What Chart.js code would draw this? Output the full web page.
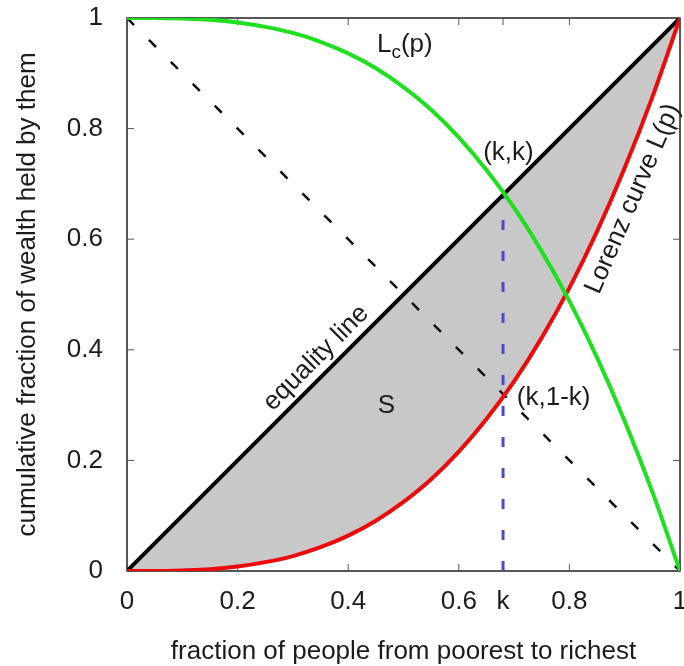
<!DOCTYPE html>
<html>
<head>
<meta charset="utf-8">
<script src="https://cdn.jsdelivr.net/npm/chart.js@4.4.1/dist/chart.umd.min.js"></script>
<style>
  body { margin: 0; background: #fff; }
</style>
</head>
<body>
<canvas id="lorenzChart" width="684" height="666"></canvas>
<script>
// values
const people = [0, 0.05, 0.1, 0.15, 0.2, 0.25, 0.3, 0.35, 0.4, 0.45, 0.5, 0.55, 0.6, 0.65, 0.7, 0.75, 0.8, 0.85, 0.9, 0.95, 1];
const lorenz = [0, 0, 0.001, 0.003, 0.008, 0.016, 0.027, 0.043, 0.064, 0.091, 0.125, 0.166, 0.216, 0.275, 0.343, 0.422, 0.512, 0.614, 0.729, 0.857, 1];
const lorenzC = [1, 1, 0.999, 0.997, 0.992, 0.984, 0.973, 0.957, 0.936, 0.909, 0.875, 0.834, 0.784, 0.725, 0.657, 0.578, 0.488, 0.386, 0.271, 0.143, 0];
const equality = [[0, 0], [1, 1]];
const antiDiagonal = [[0, 1], [1, 0]];
const k = 0.68;

const xTickVals = [0, 0.2, 0.4, 0.6, k, 0.8, 1];
const xTickLabels = ['0', '0.2', '0.4', '0.6', 'k', '0.8', '1'];
const yTickVals = [0, 0.2, 0.4, 0.6, 0.8, 1];
const yTickLabels = ['0', '0.2', '0.4', '0.6', '0.8', '1'];

const FONT = 'Liberation Sans, Arial, sans-serif';
const TEXT = '#1c1c1c';

const pts = (xs, ys) => xs.map((x, i) => ({ x: x, y: ys[i] }));
const pairs = (arr) => arr.map(p => ({ x: p[0], y: p[1] }));

// frame + inward ticks on all four sides (gnuplot style)
const framePlugin = {
  id: 'frame',
  beforeDatasetsDraw(chart) {
    const { ctx, chartArea: a, scales } = chart;
    ctx.save();
    ctx.strokeStyle = '#111';
    ctx.lineWidth = 1.4;
    ctx.strokeRect(a.left, a.top, a.right - a.left, a.bottom - a.top);
    ctx.strokeStyle = '#555';
    ctx.lineWidth = 1;
    const len = 7;
    ctx.beginPath();
    xTickVals.forEach(v => {
      const px = scales.x.getPixelForValue(v);
      ctx.moveTo(px, a.bottom); ctx.lineTo(px, a.bottom - len);
      ctx.moveTo(px, a.top); ctx.lineTo(px, a.top + len);
    });
    yTickVals.forEach(v => {
      const py = scales.y.getPixelForValue(v);
      ctx.moveTo(a.left, py); ctx.lineTo(a.left + len, py);
      ctx.moveTo(a.right, py); ctx.lineTo(a.right - len, py);
    });
    ctx.stroke();
    ctx.restore();
  }
};

// text labels inside the plot, placed in data coordinates
const notes = [
  { text: 'equality line', x: 0.342, y: 0.385, slope: true },
  { text: 'S', x: 0.469, y: 0.298, align: 'center' },
  { text: '(k,k)', x: 0.644, y: 0.757, align: 'left' },
  { text: '(k,1-k)', x: 0.705, y: 0.314, align: 'left' },
  { text: 'Lorenz curve L(p)', x: 0.915, y: 0.673, angle: -66.6 }
];

const notesPlugin = {
  id: 'notes',
  afterDatasetsDraw(chart) {
    const { ctx, scales } = chart;
    const sx = scales.x, sy = scales.y;
    ctx.save();
    ctx.fillStyle = TEXT;
    ctx.font = '26px ' + FONT;
    ctx.textBaseline = 'middle';
    notes.forEach(n => {
      let ang = (n.angle || 0) * Math.PI / 180;
      if (n.slope) {
        ang = Math.atan2(sy.getPixelForValue(1) - sy.getPixelForValue(0),
                         sx.getPixelForValue(1) - sx.getPixelForValue(0));
      }
      ctx.save();
      ctx.translate(sx.getPixelForValue(n.x), sy.getPixelForValue(n.y));
      ctx.rotate(ang);
      ctx.textAlign = n.align || 'center';
      ctx.fillText(n.text, 0, 0);
      ctx.restore();
    });

    // L_c(p) with subscript
    let px = sx.getPixelForValue(0.452);
    const py = sy.getPixelForValue(0.951);
    ctx.textAlign = 'left';
    ctx.fillText('L', px, py);
    px += ctx.measureText('L').width;
    ctx.font = '19px ' + FONT;
    ctx.fillText('c', px, py + 8);
    px += ctx.measureText('c').width;
    ctx.font = '26px ' + FONT;
    ctx.fillText('(p)', px, py);
    ctx.restore();
  }
};

const ctx = document.getElementById('lorenzChart').getContext('2d');

new Chart(ctx, {
  type: 'line',
  data: {
    datasets: [
      {
        label: 'Lc(p)',
        data: pts(people, lorenzC),
        borderColor: '#1fe01f',
        borderWidth: 4,
        cubicInterpolationMode: 'monotone',
        pointRadius: 0,
        fill: false
      },
      {
        label: 'Lorenz curve L(p)',
        data: pts(people, lorenz),
        borderColor: '#ee0a0a',
        borderWidth: 4,
        cubicInterpolationMode: 'monotone',
        pointRadius: 0,
        backgroundColor: '#c8c8c8',
        fill: { target: 2 }
      },
      {
        label: 'equality line',
        data: pairs(equality),
        borderColor: '#000',
        borderWidth: 4,
        pointRadius: 0,
        fill: false
      },
      {
        label: 'k',
        data: [{ x: k, y: 0 }, { x: k, y: k }],
        borderColor: '#4b4bc8',
        borderWidth: 3,
        borderDash: [10, 21],
        pointRadius: 0,
        fill: false
      },
      {
        label: 'diagonal',
        data: pairs(antiDiagonal),
        borderColor: '#111',
        borderWidth: 2.5,
        borderDash: [10, 21],
        pointRadius: 0,
        fill: false
      }
    ]
  },
  options: {
    responsive: false,
    animation: false,
    devicePixelRatio: 1,
    layout: { padding: { top: 18, right: 4, left: 0, bottom: 0 } },
    plugins: {
      legend: { display: false },
      tooltip: { enabled: false },
      filler: { drawTime: 'beforeDatasetsDraw' }
    },
    scales: {
      x: {
        type: 'linear',
        min: 0,
        max: 1,
        grid: { display: false },
        border: { display: false },
        afterBuildTicks: (scale) => { scale.ticks = xTickVals.map(v => ({ value: v })); },
        afterFit: (scale) => { scale.height = 95; scale.paddingLeft = 0; scale.paddingRight = 0; },
        ticks: {
          autoSkip: false,
          maxRotation: 0,
          padding: 7,
          color: TEXT,
          font: { family: FONT, size: 26 },
          callback: (v, i) => xTickLabels[i]
        },
        title: {
          display: true,
          text: 'fraction of people from poorest to richest',
          color: TEXT,
          font: { family: FONT, size: 26, lineHeight: 1 },
          padding: { top: 0, bottom: 1 }
        }
      },
      y: {
        type: 'linear',
        min: 0,
        max: 1,
        grid: { display: false },
        border: { display: false },
        afterBuildTicks: (scale) => { scale.ticks = yTickVals.map(v => ({ value: v })); },
        afterFit: (scale) => { scale.width = 127; scale.paddingTop = 0; scale.paddingBottom = 0; },
        ticks: {
          autoSkip: false,
          padding: 16,
          color: TEXT,
          font: { family: FONT, size: 26 },
          callback: (v, i) => yTickLabels[i]
        },
        title: {
          display: true,
          text: 'cumulative fraction of wealth held by them',
          color: TEXT,
          font: { family: FONT, size: 26, lineHeight: 1 },
          padding: { top: 15, bottom: 0 }
        }
      }
    }
  },
  plugins: [framePlugin, notesPlugin]
});
</script>
</body>
</html>
